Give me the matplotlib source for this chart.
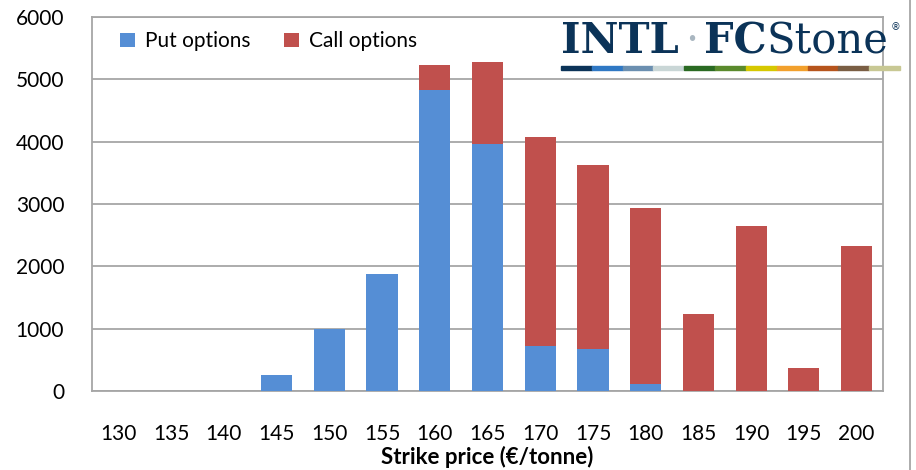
import matplotlib
matplotlib.use("Agg")
import matplotlib.pyplot as plt
from matplotlib.patches import Rectangle
from matplotlib.lines import Line2D
import numpy as np

plt.rcParams['font.family'] = ['Lato', 'DejaVu Sans']

strikes = ['130', '135', '140', '145', '150', '155', '160', '165',
           '170', '175', '180', '185', '190', '195', '200']
put_oi = [0, 0, 0, 250, 990, 1870, 4830, 3960, 720, 670, 110, 0, 0, 0, 0]
call_oi = [0, 0, 0, 0, 0, 0, 400, 1320, 3360, 2960, 2830, 1230, 2650, 365, 2330]

put_color = '#558ed5'
call_color = '#c0504d'
grid_color = '#a6a6a6'

W, H = 916, 470
fig = plt.figure(figsize=(W / 100, H / 100), dpi=100)
ax = fig.add_axes([92 / W, (H - 391) / H, (883 - 92) / W, (391 - 17) / H])

x = np.arange(len(strikes))
ax.bar(x, put_oi, width=0.59, color=put_color, label='Put options', zorder=3)
ax.bar(x, call_oi, width=0.59, bottom=put_oi, color=call_color,
       label='Call options', zorder=3)

ax.set_xlim(-0.5, len(strikes) - 0.5)
ax.set_ylim(0, 6000)
ax.set_yticks(range(0, 6001, 1000))
ax.set_xticks(x)
ax.set_xticklabels(strikes)
ax.yaxis.grid(True, color=grid_color, linewidth=1.3, zorder=0)
ax.tick_params(axis='both', length=0, labelsize=15, colors='#000000')
ax.tick_params(axis='y', pad=20)
ax.tick_params(axis='x', pad=24)
for s in ax.spines.values():
    s.set_color(grid_color)
    s.set_linewidth(1.3)

ax.set_xlabel('Strike price (€/tonne)', fontsize=16, fontweight='bold')
ax.xaxis.set_label_coords(0.5, -0.148)

ax.legend(loc='upper left', bbox_to_anchor=(0.02, 0.995), ncol=2, frameon=False,
          fontsize=15, handlelength=0.7, handleheight=0.7, handletextpad=0.5,
          columnspacing=1.6, borderaxespad=0.2)

# logo
def fx(px):
    return px / W

def fy(py):
    return (H - py) / H

navy = '#0b3358'
renderer = fig.canvas.get_renderer()
pieces = [('INTL', 'bold', navy, 30, 6),
          ('·', 'normal', '#a9b6c0', 30, 6),
          ('FC', 'bold', navy, 30, 0),
          ('Stone', 'normal', navy, 30, 2)]
cur = 561
for txt, wt, col, size, gap in pieces:
    t = fig.text(fx(cur), fy(53), txt, fontsize=size, fontweight=wt, color=col,
                 family='DejaVu Serif', va='baseline')
    bb = t.get_window_extent(renderer)
    cur = cur + bb.width + gap
fig.text(fx(cur), fy(30), '®', fontsize=7, color=navy,
         family='DejaVu Sans', va='baseline')

strip_colors = ['#0b3358', '#2f78c4', '#6b8fb0', '#c9d6d6', '#2a6a22', '#5a8a2c',
                '#d6c800', '#f2a02c', '#b6541c', '#7a5e44', '#c8c894']
x0, x1 = 561, 900
seg = (x1 - x0) / len(strip_colors)
for i, c in enumerate(strip_colors):
    fig.patches.append(Rectangle((fx(x0 + i * seg), fy(70)), seg / W, 4 / H,
                                 transform=fig.transFigure, color=c, zorder=5))

fig.lines.append(Line2D([fx(910), fx(910)], [0, 1], transform=fig.transFigure,
                        color=grid_color, linewidth=1.3))

fig.savefig('out.png', dpi=100)
